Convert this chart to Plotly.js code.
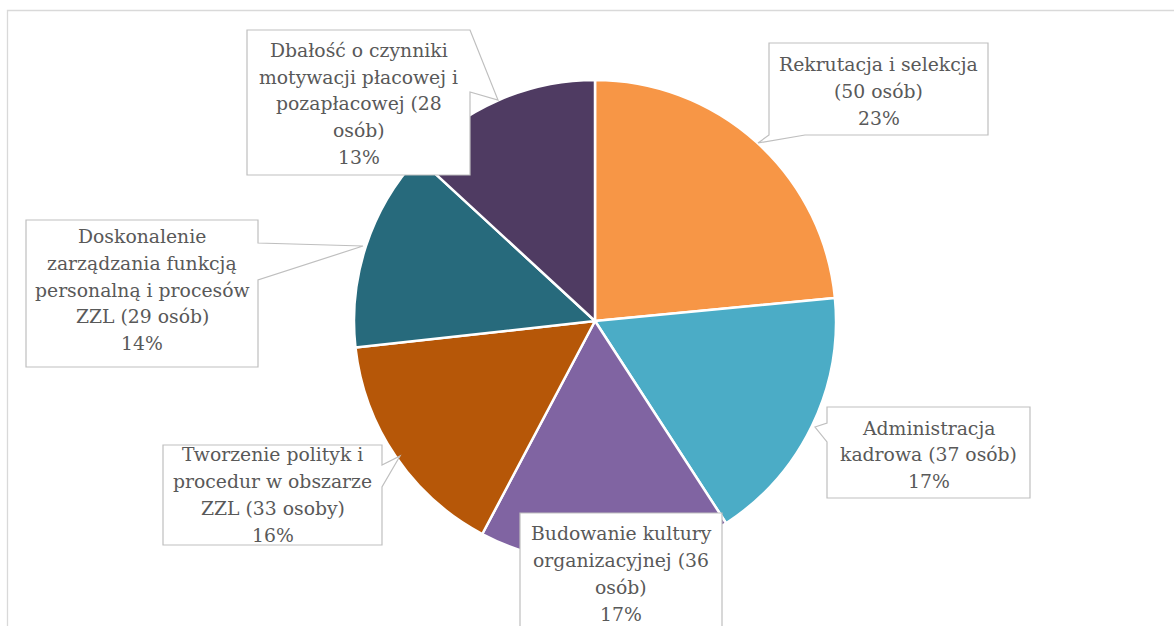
<!DOCTYPE html>
<html>
<head>
<meta charset="utf-8">
<script src="https://cdn.plot.ly/plotly-3.0.1.min.js"></script>
<style>
html,body{margin:0;padding:0;background:#fff;}
#chart{width:1174px;height:626px;}
</style>
</head>
<body>
<div id="chart"></div>
<script>
// ---- data ----
var categories = [
  "Rekrutacja i selekcja",
  "Administracja kadrowa",
  "Budowanie kultury organizacyjnej",
  "Tworzenie polityk i procedur w obszarze ZZL",
  "Doskonalenie zarządzania funkcją personalną i procesów ZZL",
  "Dbałość o czynniki motywacji płacowej i pozapłacowej"
];
var values = [50, 37, 36, 33, 29, 28];
var labelLines = [
  ["Rekrutacja i selekcja", "(50 osób)"],
  ["Administracja", "kadrowa (37 osób)"],
  ["Budowanie kultury", "organizacyjnej (36", "osób)"],
  ["Tworzenie polityk i", "procedur w obszarze", "ZZL (33 osoby)"],
  ["Doskonalenie", "zarządzania funkcją", "personalną i procesów", "ZZL (29 osób)"],
  ["Dbałość o czynniki", "motywacji płacowej i", "pozapłacowej (28", "osób)"]
];
var percentLabels = ["23%", "17%", "17%", "16%", "14%", "13%"];
var colors = ["#F79646", "#4BACC6", "#8064A2", "#B65708", "#276A7C", "#4F3B62"];

// ---- layout helpers (pixel -> paper) ----
var W = 1174, H = 626;
function px(x){ return x / W; }
function py(y){ return 1 - y / H; }
function path(pts){
  return "M" + pts.map(function(p){ return px(p[0]).toFixed(5) + "," + py(p[1]).toFixed(5); }).join(" L") + " Z";
}

var callouts = [
  [[769,43],[988,43],[988,135],[805,135],[758,143],[769,135]],
  [[827,407],[1030,407],[1030,498],[827,498],[827,442],[815,427],[827,423]],
  [[520,513],[722,513],[722,660],[520,660]],
  [[163,445],[382,445],[382,465],[400,456],[382,487],[382,545],[163,545]],
  [[26,220],[258,220],[258,243],[363,246],[258,280],[258,367],[26,367]],
  [[247,30],[470,30],[498,100],[470,92],[470,175],[247,175]]
];
var textCenters = [[878.5,91.5],[928.5,455],[621,574],[272.5,495],[142,290],[358.5,104]];
var LINE = 26.8;

var shapes = [{
  type: "rect", xref: "paper", yref: "paper",
  x0: px(7.5), y0: py(700), x1: px(1200), y1: py(10.5),
  line: {color: "#D9D9D9", width: 1.3}, fillcolor: "rgba(0,0,0,0)", layer: "below"
}];
callouts.forEach(function(c){
  shapes.push({type: "path", xref: "paper", yref: "paper", path: path(c),
    fillcolor: "#FFFFFF", line: {color: "#BFBFBF", width: 1.2}});
});

var FONT = "DejaVu Serif";
var annotations = [];
labelLines.forEach(function(lines, i){
  var all = lines.concat([percentLabels[i]]);
  var n = all.length;
  all.forEach(function(t, k){
    annotations.push({
      xref: "paper", yref: "paper",
      x: px(textCenters[i][0]),
      y: py(textCenters[i][1] + (k - (n - 1) / 2) * LINE),
      xanchor: "center", yanchor: "middle", align: "center",
      showarrow: false,
      text: t,
      font: {family: FONT, size: 18.8, color: "#595959"}
    });
  });
});

var trace = {
  type: "pie",
  labels: categories,
  values: values,
  sort: false,
  direction: "clockwise",
  rotation: 0,
  textinfo: "none",
  hoverinfo: "label+value+percent",
  marker: {colors: colors, line: {color: "#FFFFFF", width: 2.5}},
  domain: {x: [px(354), px(836)], y: [py(562), py(80)]},
  showlegend: false
};

var layout = {
  width: W, height: H,
  margin: {l: 0, r: 0, t: 0, b: 0},
  paper_bgcolor: "#FFFFFF",
  showlegend: false,
  shapes: shapes,
  annotations: annotations,
  font: {family: FONT}
};

Plotly.newPlot("chart", [trace], layout, {displayModeBar: false, staticPlot: true});
</script>
</body>
</html>
